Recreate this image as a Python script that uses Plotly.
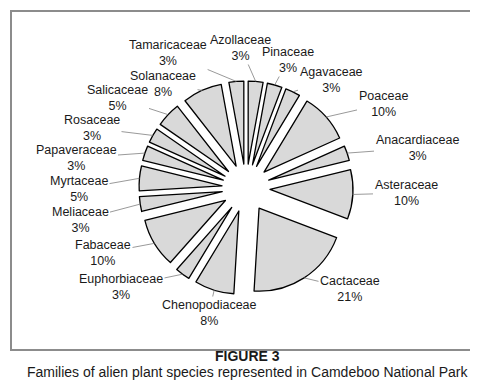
import numpy as np
import plotly.graph_objects as go

# Data (percent of alien species per family)
families = ["Azollaceae", "Pinaceae", "Agavaceae", "Poaceae", "Anacardiaceae",
            "Asteraceae", "Cactaceae", "Chenopodiaceae", "Euphorbiaceae", "Fabaceae",
            "Meliaceae", "Myrtaceae", "Papaveraceae", "Rosaceae", "Salicaceae",
            "Solanaceae", "Tamaricaceae"]
percents = [3, 3, 3, 10, 3, 10, 21, 8, 3, 10, 3, 5, 3, 3, 5, 8, 3]

# ---- layout / style (pixels) ----
W, H = 478, 390
cx, cy = 238, 180          # pie centre
box = 214                  # pie domain box
pull = 0.29
FONT = "Liberation Sans, Arial, sans-serif"

# label block centres (page pixels), in the same order as families
label_xy = [(233, 40), (280, 52), (323, 72), (375, 96), (409, 140),
            (398, 185), (342, 281), (201, 305), (113, 279), (95, 245),
            (72, 212), (71, 181), (68, 150), (84, 120), (109, 90),
            (155, 76), (160, 45)]

fig = go.Figure()
fig.add_trace(go.Pie(
    labels=families,
    values=percents,
    sort=False,
    direction="clockwise",
    rotation=0,
    pull=[pull] * len(percents),
    automargin=False,
    marker=dict(colors=["#d9d9d9"] * len(percents),
                line=dict(color="#000000", width=1.3)),
    textinfo="none",
    showlegend=False,
    hoverinfo="label+value",
    domain=dict(x=[(cx - box / 2) / W, (cx + box / 2) / W],
                y=[1 - (cy + box / 2) / H, 1 - (cy - box / 2) / H]),
))

# leader lines + labels, anchored at the outer rim of each (pulled) slice
vals = np.array(percents, dtype=float)
mid = (np.cumsum(vals) - vals / 2) / vals.sum() * 2 * np.pi
r = box / (2 * (1 + pull))
reach = r * (1 + pull)
for name, v, th, (tx, ty) in zip(families, percents, mid, label_xy):
    px = cx + reach * np.sin(th)
    py = cy - reach * np.cos(th)
    fig.add_annotation(
        x=px / W, y=1 - py / H, xref="paper", yref="paper",
        text=f"{name}<br>{v}%", showarrow=True, arrowhead=0,
        arrowwidth=0.8, arrowcolor="#7f7f7f", standoff=0,
        ax=tx - px, ay=ty - py, align="center",
        font=dict(family=FONT, size=12.5, color="#1a1a1a"))

fig.add_shape(type="rect", xref="paper", yref="paper",
              x0=3 / W, x1=474 / W, y0=1 - 342 / H, y1=1 - 3 / H,
              line=dict(color="#8c8c8c", width=2), fillcolor="rgba(0,0,0,0)")

fig.add_annotation(text="<b>FIGURE 3</b>", xref="paper", yref="paper",
                   x=0.5, y=1 - 358 / H, showarrow=False,
                   font=dict(family=FONT, size=14, color="#1a1a1a"))
fig.add_annotation(text="Families of alien plant species represented in Camdeboo National Park",
                   xref="paper", yref="paper", x=0.5, y=1 - 374 / H, showarrow=False,
                   font=dict(family=FONT, size=14, color="#1a1a1a"))

fig.update_layout(width=W, height=H,
                  margin=dict(l=0, r=0, t=0, b=0, autoexpand=False),
                  paper_bgcolor="white", plot_bgcolor="white")
fig.write_html("out.html")
